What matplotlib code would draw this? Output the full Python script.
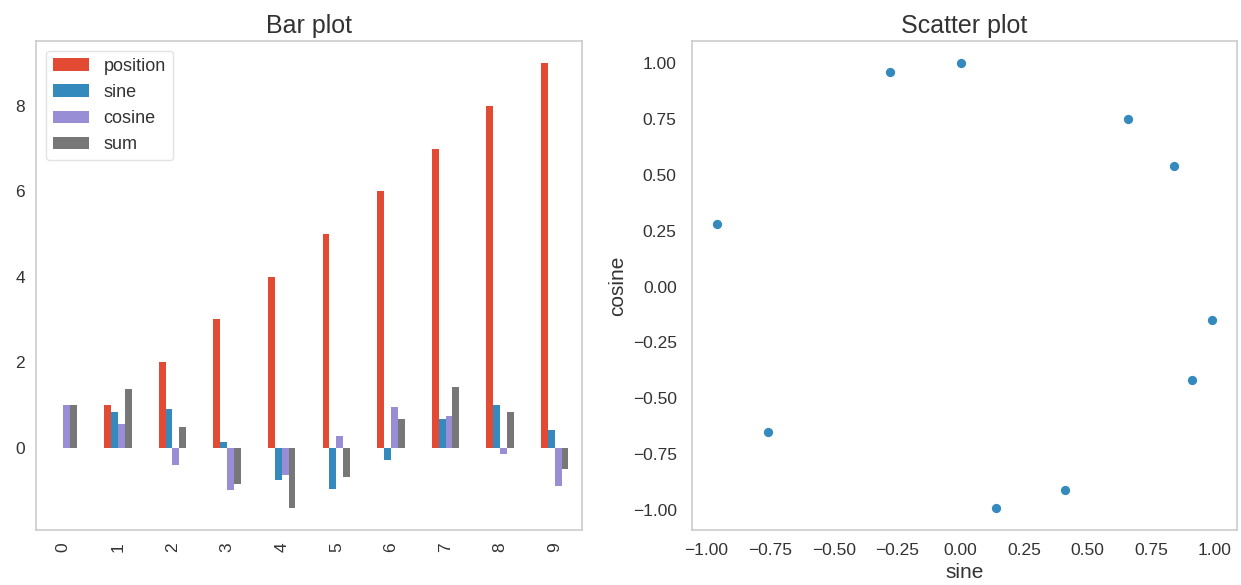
import matplotlib.pyplot as plt
import numpy as np

plt.rcParams['font.family'] = ['Liberation Sans', 'DejaVu Sans']

# Dados
positions = [0, 1, 2, 3, 4, 5, 6, 7, 8, 9]
sine = [0.0, 0.84, 0.91, 0.14, -0.76, -0.96, -0.28, 0.66, 0.99, 0.41]
cosine = [1.0, 0.54, -0.42, -0.99, -0.65, 0.28, 0.96, 0.75, -0.15, -0.91]
total = [1.0, 1.38, 0.49, -0.85, -1.41, -0.68, 0.68, 1.41, 0.84, -0.50]

series = [('position', positions, '#E24A33'),
          ('sine', sine, '#348ABD'),
          ('cosine', cosine, '#988ED5'),
          ('sum', total, '#777777')]

text_color = '#333333'
spine_color = '#cccccc'

fig = plt.figure(figsize=(12.41, 5.85), dpi=100)
ax1 = fig.add_axes([0.029, 0.094, 0.440, 0.836])
ax2 = fig.add_axes([0.5576, 0.094, 0.4392, 0.836])

# Bar plot
x = np.arange(len(positions))
w = 0.125
for i, (name, vals, color) in enumerate(series):
    ax1.bar(x + (i - 1.5) * w, vals, width=w, color=color, label=name)
ax1.set_xlim(-0.5, 9.5)
ax1.set_xticks(x)
ax1.set_xticklabels([str(p) for p in positions], rotation=90)
ax1.margins(y=0.05)
ax1.set_title('Bar plot', fontsize=18, color=text_color)
leg = ax1.legend(loc='upper left', fontsize=13, frameon=True,
                 borderaxespad=0.55)
leg.get_frame().set_edgecolor('#dddddd')
for t in leg.get_texts():
    t.set_color(text_color)

# Scatter plot
ax2.scatter(sine, cosine, color='#348ABD', s=32, zorder=3)
ax2.set_xlabel('sine', fontsize=15, color=text_color)
ax2.set_ylabel('cosine', fontsize=15, color=text_color)
ax2.set_title('Scatter plot', fontsize=18, color=text_color)
ax2.set_xticks(np.arange(-1, 1.01, 0.25))
ax2.set_yticks(np.arange(-1, 1.01, 0.25))

for ax in (ax1, ax2):
    ax.grid(False)
    ax.tick_params(length=0, labelsize=12.5, labelcolor=text_color)
    ax.tick_params(axis='x', pad=9)
    for s in ax.spines.values():
        s.set_color(spine_color)
        s.set_linewidth(1.2)
ax1.tick_params(axis='y', pad=8)
ax2.tick_params(axis='y', pad=11)

fig.savefig('out.png', dpi=100)
